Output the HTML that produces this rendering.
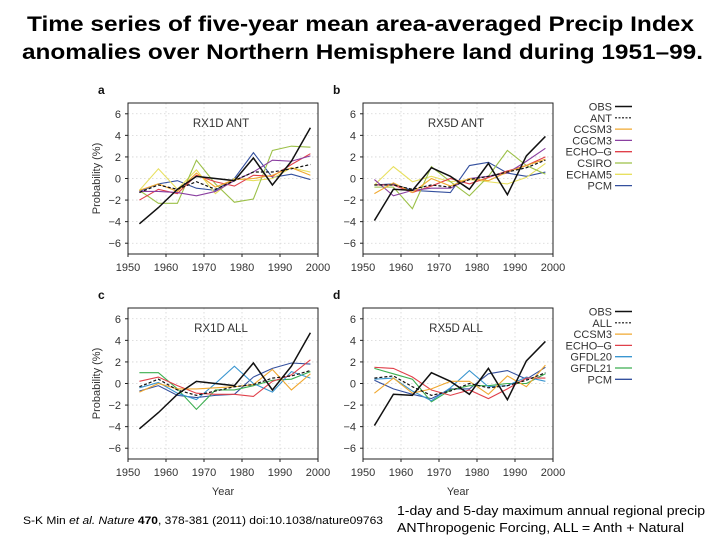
<!DOCTYPE html>
<html><head><meta charset="utf-8"><style>
body{margin:0;background:#fff;width:720px;height:540px;overflow:hidden;font-family:"Liberation Sans",sans-serif}
svg text{font-family:"Liberation Sans",sans-serif}
</style></head><body>
<svg id="fig" width="720" height="540">
<text x="27" y="31" font-size="21" font-weight="bold" textLength="667" lengthAdjust="spacingAndGlyphs" fill="#000">Time series of five-year mean area-averaged Precip Index</text>
<text x="22" y="59" font-size="21" font-weight="bold" textLength="681" lengthAdjust="spacingAndGlyphs" fill="#000">anomalies over Northern Hemisphere land during 1951–99.</text>
<text x="23" y="524" font-size="11" textLength="360" lengthAdjust="spacingAndGlyphs" fill="#000">S-K Min <tspan font-style="italic">et al. Nature</tspan> <tspan font-weight="bold">470</tspan>, 378-381 (2011) doi:10.1038/nature09763</text>
<text x="397" y="515" font-size="13" textLength="308" lengthAdjust="spacingAndGlyphs" fill="#000">1-day and 5-day maximum annual regional precip</text>
<text x="397" y="532" font-size="13" textLength="287" lengthAdjust="spacingAndGlyphs" fill="#000">ANThropogenic Forcing, ALL = Anth + Natural</text>
</svg>
<script>
const years=[1953,1958,1963,1968,1973,1978,1983,1988,1993,1998];
const obs1D=[-4.2,-2.7,-1.0,0.2,0.0,-0.2,1.9,-0.6,1.6,4.7];
const obs5D=[-3.9,-1.0,-1.1,1.0,0.2,-1.0,1.4,-1.5,2.1,3.9];
const aANT=[-1.3,-0.6,-1.0,-0.3,-1.0,-0.2,0.6,0.6,0.9,1.3];
const aCCSM3=[-1.1,-0.5,-1.2,0.5,-0.8,-0.1,0.0,0.3,1.0,0.3];
const aCGCM3=[-1.2,-1.2,-1.3,-1.6,-1.2,-0.2,0.6,1.7,1.6,2.1];
const aECHOG=[-2.0,-1.0,-1.4,0.3,-0.3,-0.7,0.3,0.2,1.3,2.3];
const aCSIRO=[-1.1,-2.3,-2.3,1.7,-0.5,-2.2,-1.9,2.6,3.0,2.9];
const aECHAM5=[-1.1,0.9,-1.0,0.8,-1.4,0.0,-0.2,0.0,1.0,0.6];
const aPCM=[-1.2,-0.5,-0.2,-0.9,-1.1,0.0,2.4,0.1,0.4,-0.1];
const bANT=[-0.6,-0.6,-1.0,-0.6,-0.8,-0.1,0.2,0.6,1.0,1.7];
const bCCSM3=[-1.4,-0.4,-1.3,0.0,-0.7,0.0,-0.2,0.6,1.2,1.8];
const bCGCM3=[-0.1,-1.6,-1.1,-0.9,-0.9,0.0,0.2,0.5,1.6,2.8];
const bECHOG=[-0.6,-0.6,-1.3,-0.7,0.0,-0.5,0.1,0.7,1.2,2.0];
const bCSIRO=[-0.8,-0.8,-2.8,1.1,-0.3,-1.6,0.2,2.6,1.2,0.4];
const bECHAM5=[-0.6,1.1,-0.3,0.2,-0.3,-0.1,-0.3,-0.5,0.1,1.4];
const bPCM=[-0.6,-0.5,-1.1,-1.2,-1.3,1.2,1.5,0.5,0.2,0.6];
const cALL=[-0.3,0.4,-0.6,-1.1,-0.7,-0.3,-0.1,0.5,0.7,1.2];
const cCCSM3=[-0.8,0.0,-0.5,-0.5,-0.4,-0.3,-0.1,1.3,-0.6,0.9];
const cECHOG=[0.2,0.6,-0.2,-0.9,-1.0,-1.0,-1.2,0.2,0.8,2.2];
const cGFDL20=[-0.4,0.1,-0.9,-1.5,0.0,1.6,0.0,-0.8,1.1,0.5];
const cGFDL21=[1.0,1.0,-0.5,-2.4,-0.6,-0.6,-0.2,0.3,0.4,1.1];
const cPCM=[-0.7,-0.2,-1.1,-1.3,-1.1,-1.0,0.6,1.4,1.9,1.8];
const dALL=[0.5,0.7,-0.3,-1.1,-0.7,0.0,-0.4,-0.2,0.3,1.0];
const dCCSM3=[-0.9,0.5,-0.9,-0.5,0.2,0.2,-1.0,0.7,-0.3,1.7];
const dECHOG=[1.5,1.4,0.6,-0.6,-1.1,-0.6,-1.4,-0.5,0.5,0.5];
const dGFDL20=[0.4,0.5,-0.7,-1.6,-0.4,1.2,-0.3,-0.2,0.6,0.2];
const dGFDL21=[1.4,0.9,0.4,-1.7,-0.6,-0.2,-0.2,0.0,0.0,0.9];
const dPCM=[0.3,-0.5,-1.0,-1.4,-0.5,-0.5,0.9,1.2,0.4,1.5];
const xTicks=[1950,1960,1970,1980,1990,2000];
const yTicks=[6,4,2,0,-2,-4,-6];
const yTickLabels=["6","4","2","0","−2","−4","−6"];
const legendANT=["OBS","ANT","CCSM3","CGCM3","ECHO\u2013G","CSIRO","ECHAM5","PCM"];
const legendALL=["OBS","ALL","CCSM3","ECHO\u2013G","GFDL20","GFDL21","PCM"];

const C={OBS:"#111",ANT:"#111",ALL:"#111",CCSM3:"#f0a830",CGCM3:"#8a3fa0",ECHOG:"#e0404a",CSIRO:"#9cc048",ECHAM5:"#e8e060",PCM:"#34509e",GFDL20:"#3a96d0",GFDL21:"#3cae50"};
const NS="http://www.w3.org/2000/svg";
const svg=document.getElementById('fig');
function mk(t,a,p){const e=document.createElementNS(NS,t);for(const k in a)e.setAttribute(k,a[k]);(p||svg).appendChild(e);return e;}

function panel(id,x0,x1,y0,y1,letter,title,series,legend,legY,legX,showYlab,showXlab){
  const g=mk('g',{});
  
  
  const X=v=>x0+(v-1950)/50*(x1-x0);
  const Y=v=>y0+(7-v)/14*(y1-y0);
  xTicks.slice(1,5).forEach(t=>{const l=mk('line',{x1:X(t),x2:X(t),y1:y0,y2:y1,stroke:"#d4d4d4","stroke-width":0.8,"stroke-dasharray":"1.5,2.5"},g);
    });
  yTicks.forEach(t=>{const l=mk('line',{x1:x0,x2:x1,y1:Y(t),y2:Y(t),stroke:"#d4d4d4","stroke-width":0.8,"stroke-dasharray":"1.5,2.5"},g);
    });
  const f=mk('rect',{x:x0,y:y0,width:x1-x0,height:y1-y0,fill:"none",stroke:"#222","stroke-width":1},g);
  
  xTicks.forEach(t=>{mk('line',{x1:X(t),x2:X(t),y1:y1,y2:y1+3,stroke:"#222"},g);
    const tx=mk('text',{x:X(t),y:y1+17,"font-size":11,"text-anchor":"middle",fill:"#333"},g);tx.textContent=t;
    });
  yTicks.forEach((t,i)=>{mk('line',{x1:x0-3,x2:x0,y1:Y(t),y2:Y(t),stroke:"#222"},g);
    const tx=mk('text',{x:x0-7,y:Y(t)+4,"font-size":11,"text-anchor":"end",fill:"#333"},g);tx.textContent=yTickLabels[i];
    });
  const lt=mk('text',{x:x0-30,y:y0-9,"font-size":12,"font-weight":"bold",fill:"#111"},g);lt.textContent=letter;
  
  const tt=mk('text',{x:(x0+x1)/2-2,y:y0+24,"font-size":11.5,"text-anchor":"middle",fill:"#333"},g);tt.textContent=title;
  
  if(showYlab){const yl=mk('text',{x:0,y:0,"font-size":11,"text-anchor":"middle",fill:"#333",transform:`translate(${x0-28},${(y0+y1)/2}) rotate(-90)`},g);yl.textContent="Probability (%)";
    }
  if(showXlab){const xl=mk('text',{x:(x0+x1)/2,y:y1+36,"font-size":11,"text-anchor":"middle",fill:"#333"},g);xl.textContent="Year";
    }
  series.slice().reverse().forEach(s=>{
    const pts=years.map((yr,i)=>X(yr)+","+Y(s.v[i])).join(" ");
    const a={points:pts,fill:"none",stroke:s.c,"stroke-width":s.w||1.1,"stroke-linejoin":"miter"};
    if(s.dash)a["stroke-dasharray"]="3,2";
    const pl=mk('polyline',a,g);
    
    
  });
  if(legend){legend.forEach((name,i)=>{const s=series[i];const yy=legY+i*11.3;
    const tx=mk('text',{x:legX,y:yy+4,"font-size":11,"text-anchor":"end",fill:"#333"},g);tx.textContent=name;
    
    const a={x1:legX+3,x2:legX+20,y1:yy,y2:yy,stroke:s.c,"stroke-width":s.w||1.3};if(s.dash)a["stroke-dasharray"]="2,1.5";
    const ln=mk('line',a,g);});}
}
const S=(n,v,k,w,dash)=>({n:n,v:v,c:C[k],w:w,dash:dash});
const aS=[S("OBS",obs1D,"OBS",1.5),S("ANT",aANT,"ANT",1.2,1),S("CCSM3",aCCSM3,"CCSM3"),S("CGCM3",aCGCM3,"CGCM3"),S("ECHOG",aECHOG,"ECHOG"),S("CSIRO",aCSIRO,"CSIRO"),S("ECHAM5",aECHAM5,"ECHAM5"),S("PCM",aPCM,"PCM")];
const bS=[S("OBS",obs5D,"OBS",1.5),S("ANT",bANT,"ANT",1.2,1),S("CCSM3",bCCSM3,"CCSM3"),S("CGCM3",bCGCM3,"CGCM3"),S("ECHOG",bECHOG,"ECHOG"),S("CSIRO",bCSIRO,"CSIRO"),S("ECHAM5",bECHAM5,"ECHAM5"),S("PCM",bPCM,"PCM")];
const cS=[S("OBS",obs1D,"OBS",1.5),S("ALL",cALL,"ALL",1.2,1),S("CCSM3",cCCSM3,"CCSM3"),S("ECHOG",cECHOG,"ECHOG"),S("GFDL20",cGFDL20,"GFDL20"),S("GFDL21",cGFDL21,"GFDL21"),S("PCM",cPCM,"PCM")];
const dS=[S("OBS",obs5D,"OBS",1.5),S("ALL",dALL,"ALL",1.2,1),S("CCSM3",dCCSM3,"CCSM3"),S("ECHOG",dECHOG,"ECHOG"),S("GFDL20",dGFDL20,"GFDL20"),S("GFDL21",dGFDL21,"GFDL21"),S("PCM",dPCM,"PCM")];
panel('a',128,318,103,254,'a','RX1D ANT',aS,null,0,0,true,false);
panel('b',363,553,103,254,'b','RX5D ANT',bS,legendANT,106.5,612,false,false);
panel('c',128,318,308,459,'c','RX1D ALL',cS,null,0,0,true,true);
panel('d',363,553,308,459,'d','RX5D ALL',dS,legendALL,311.5,612,false,true);
</script>
</body></html>
